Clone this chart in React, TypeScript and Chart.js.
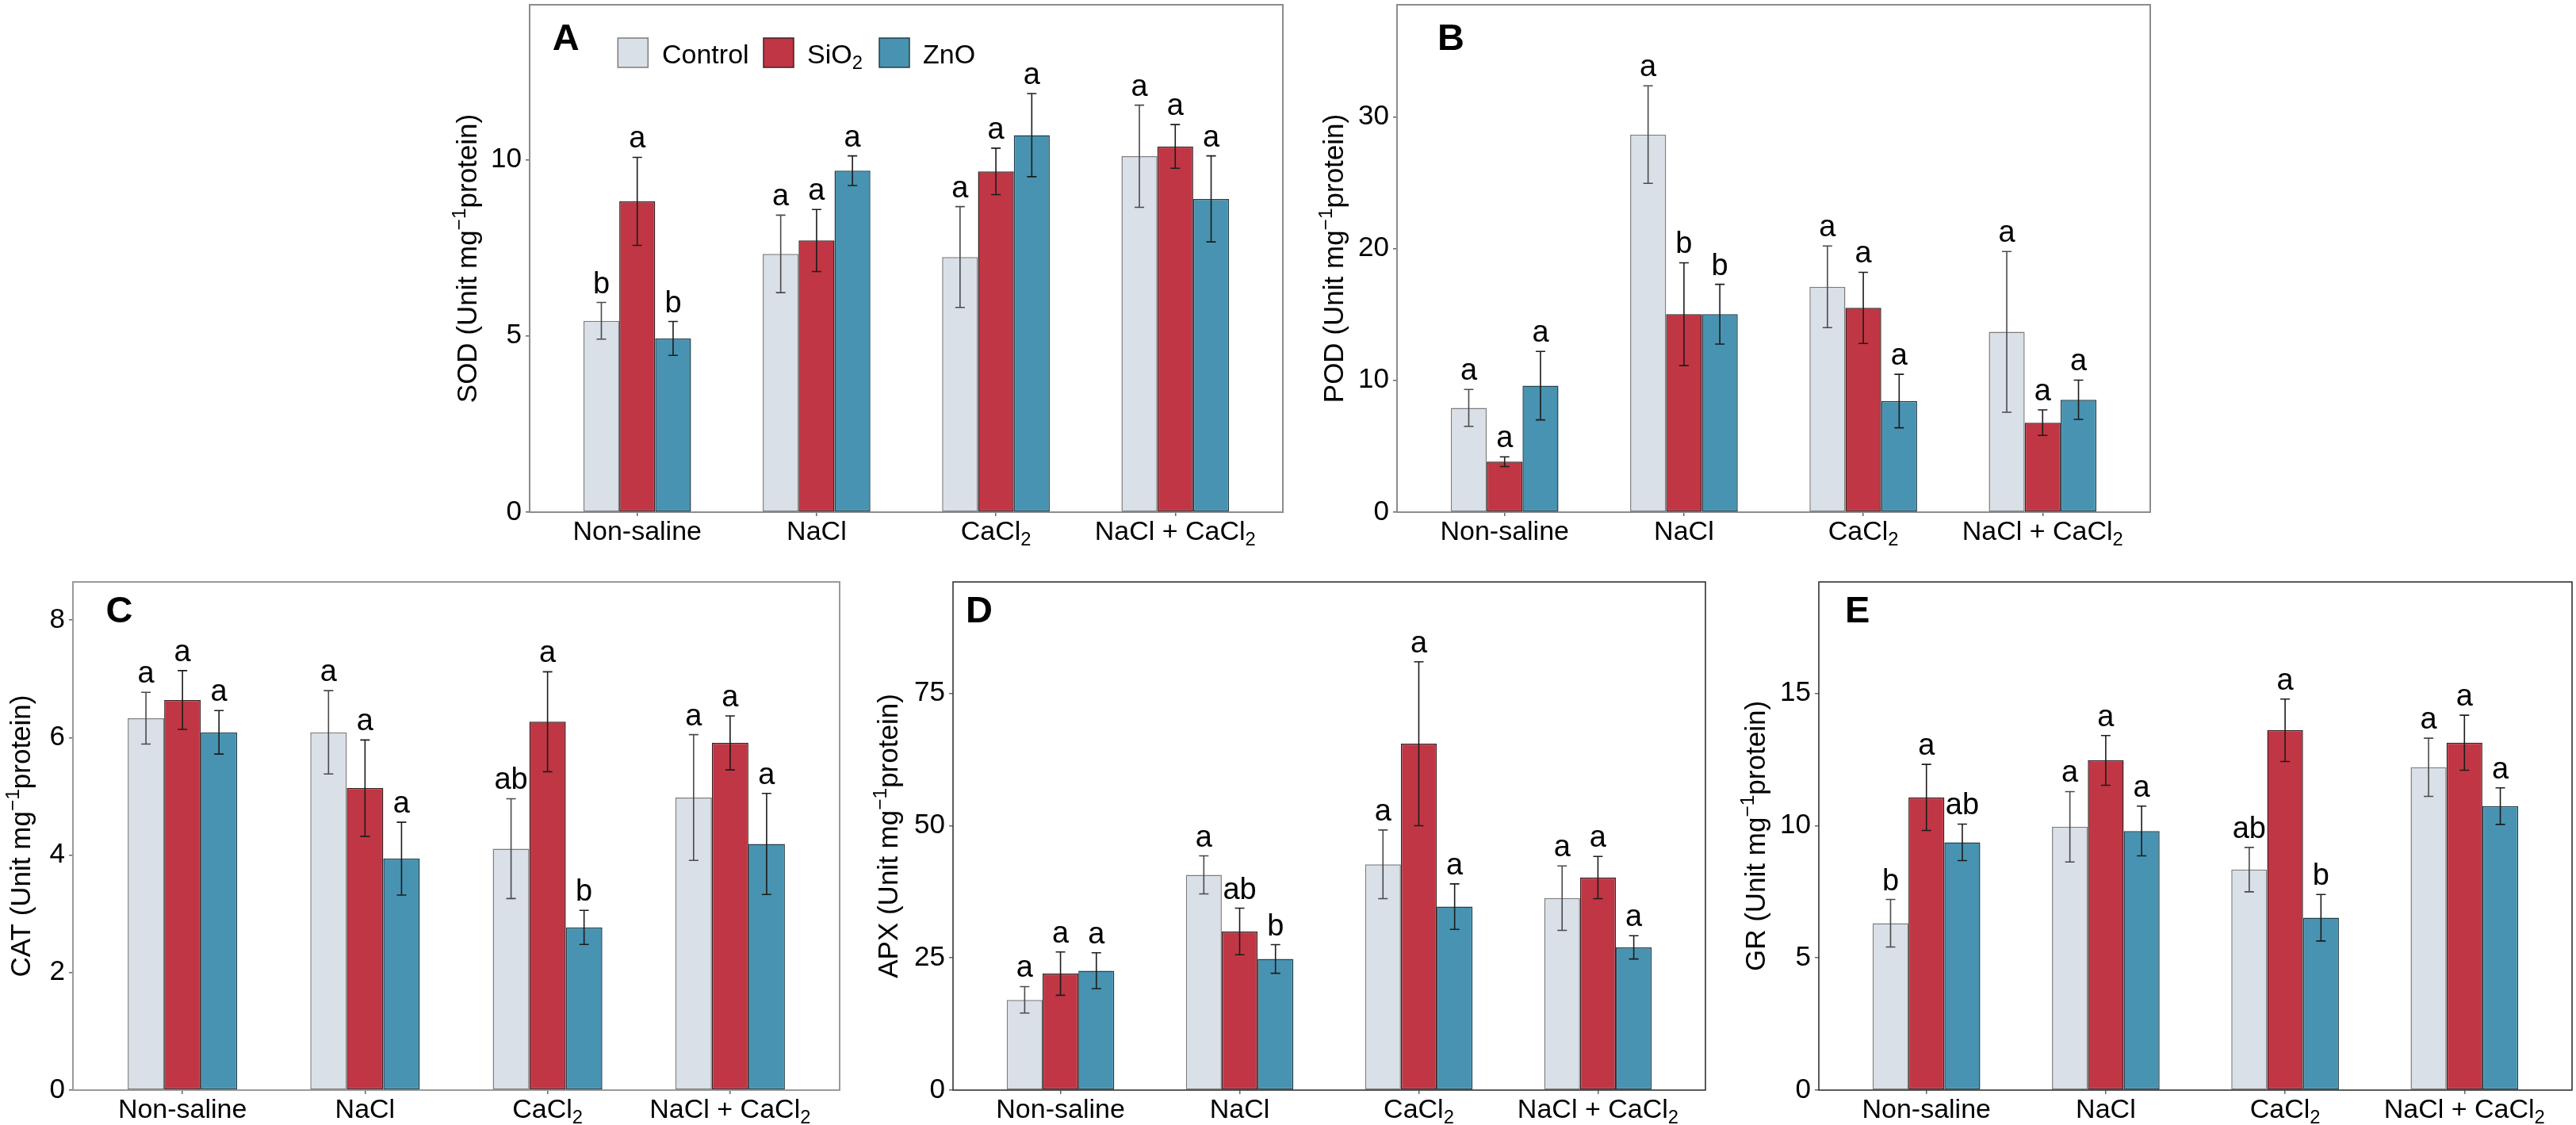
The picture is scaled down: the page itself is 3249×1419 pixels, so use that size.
import { useEffect, useRef } from 'react';
import { Chart, registerables } from 'chart.js';

Chart.register(...registerables);

const FONT = '"Liberation Sans", Arial, Helvetica, sans-serif';

// ---------------- data ----------------
const categories = ['Non-saline', 'NaCl', 'CaCl₂', 'NaCl + CaCl₂'];
const seriesNames = ['Control', 'SiO₂', 'ZnO'];

// A: SOD
const sodControl = [5.43, 7.33, 7.24, 10.1];
const sodControlErr = [0.52, 1.1, 1.43, 1.45];
const sodSiO2 = [8.82, 7.71, 9.67, 10.38];
const sodSiO2Err = [1.25, 0.88, 0.66, 0.62];
const sodZnO = [4.93, 9.69, 10.7, 8.89];
const sodZnOErr = [0.48, 0.42, 1.18, 1.22];
const sodLetters = [['b', 'a', 'a', 'a'], ['a', 'a', 'a', 'a'], ['b', 'a', 'a', 'a']];
const sodTicks = [0, 5, 10];

// B: POD
const podControl = [7.91, 28.65, 17.1, 13.68];
const podControlErr = [1.4, 3.7, 3.1, 6.1];
const podSiO2 = [3.83, 15.02, 15.5, 6.79];
const podSiO2Err = [0.37, 3.9, 2.7, 0.97];
const podZnO = [9.6, 15.02, 8.43, 8.53];
const podZnOErr = [2.6, 2.27, 2.03, 1.49];
const podLetters = [['a', 'a', 'a', 'a'], ['a', 'b', 'a', 'a'], ['a', 'b', 'a', 'a']];
const podTicks = [0, 10, 20, 30];

// C: CAT
const catControl = [6.33, 6.09, 4.11, 4.98];
const catControlErr = [0.44, 0.71, 0.85, 1.07];
const catSiO2 = [6.64, 5.14, 6.27, 5.91];
const catSiO2Err = [0.5, 0.82, 0.85, 0.46];
const catZnO = [6.09, 3.94, 2.77, 4.19];
const catZnOErr = [0.37, 0.62, 0.29, 0.86];
const catLetters = [['a', 'a', 'ab', 'a'], ['a', 'a', 'a', 'a'], ['a', 'a', 'b', 'a']];
const catTicks = [0, 2, 4, 6, 8];

// D: APX
const apxControl = [17.07, 40.7, 42.7, 36.3];
const apxControlErr = [2.5, 3.6, 6.5, 6.1];
const apxSiO2 = [22.03, 30.0, 65.5, 40.2];
const apxSiO2Err = [4.1, 4.4, 15.5, 4.0];
const apxZnO = [22.58, 24.8, 34.7, 27.0];
const apxZnOErr = [3.4, 2.7, 4.3, 2.2];
const apxLetters = [['a', 'a', 'a', 'a'], ['a', 'ab', 'a', 'a'], ['a', 'b', 'a', 'a']];
const apxTicks = [0, 25, 50, 75];

// E: GR
const grControl = [6.31, 9.96, 8.34, 12.21];
const grControlErr = [0.9, 1.33, 0.84, 1.1];
const grSiO2 = [11.07, 12.47, 13.61, 13.14];
const grSiO2Err = [1.25, 0.94, 1.18, 1.04];
const grZnO = [9.37, 9.8, 6.52, 10.74];
const grZnOErr = [0.69, 0.94, 0.88, 0.69];
const grLetters = [['b', 'a', 'ab', 'a'], ['a', 'a', 'a', 'a'], ['ab', 'a', 'b', 'a']];
const grTicks = [0, 5, 10, 15];

// ---------------- styles ----------------
const seriesFill = ['#dae0e7', '#c13644', '#4893b1'];
const seriesBorder = ['#7c7c7c', '#3a2226', '#23404b'];
const errColor = ['#4a4a4a', '#1c1c1c', '#1c1c1c'];

type Panel = {
  id: string;
  title: string;
  values: number[][];
  errors: number[][];
  letters: string[][];
  ticks: number[];
  yMax: number;
  // layout
  l: number; t: number; w: number; h: number;
  lw: number; tp: number; bh: number;
  letterDx: number; letterDy: number; titleOff: number;
  boxColor: string; boxWidth: number;
  legend: boolean;
};

const panels: Panel[] = [
  {
    id: 'A', title: 'SOD (Unit mg⁻¹protein)',
    values: [sodControl, sodSiO2, sodZnO], errors: [sodControlErr, sodSiO2Err, sodZnOErr],
    letters: sodLetters, ticks: sodTicks, yMax: 14.4,
    l: 668, t: 6, w: 950, h: 640, lw: 150, tp: 6, bh: 54,
    letterDx: 28.7, letterDy: 23.3, titleOff: 76, boxColor: '#8c8c8c', boxWidth: 2, legend: true,
  },
  {
    id: 'B', title: 'POD (Unit mg⁻¹protein)',
    values: [podControl, podSiO2, podZnO], errors: [podControlErr, podSiO2Err, podZnOErr],
    letters: podLetters, ticks: podTicks, yMax: 38.5,
    l: 1762, t: 6, w: 950, h: 640, lw: 140, tp: 6, bh: 54,
    letterDx: 51, letterDy: 23.3, titleOff: 77, boxColor: '#8c8c8c', boxWidth: 2, legend: false,
  },
  {
    id: 'C', title: 'CAT (Unit mg⁻¹protein)',
    values: [catControl, catSiO2, catZnO], errors: [catControlErr, catSiO2Err, catZnOErr],
    letters: catLetters, ticks: catTicks, yMax: 8.65,
    l: 92, t: 734, w: 967, h: 641, lw: 91, tp: 34, bh: 44,
    letterDx: 41.4, letterDy: 17.5, titleOff: 63, boxColor: '#9a9a9a', boxWidth: 2, legend: false,
  },
  {
    id: 'D', title: 'APX (Unit mg⁻¹protein)',
    values: [apxControl, apxSiO2, apxZnO], errors: [apxControlErr, apxSiO2Err, apxZnOErr],
    letters: apxLetters, ticks: apxTicks, yMax: 96.1,
    l: 1202, t: 734, w: 949, h: 641, lw: 140, tp: 34, bh: 44,
    letterDx: 16, letterDy: 17.5, titleOff: 79, boxColor: '#333333', boxWidth: 1.6, legend: false,
  },
  {
    id: 'E', title: 'GR (Unit mg⁻¹protein)',
    values: [grControl, grSiO2, grZnO], errors: [grControlErr, grSiO2Err, grZnOErr],
    letters: grLetters, ticks: grTicks, yMax: 19.22,
    l: 2294, t: 734, w: 950, h: 641, lw: 140, tp: 34, bh: 44,
    letterDx: 33, letterDy: 17.8, titleOff: 77, boxColor: '#333333', boxWidth: 1.6, legend: false,
  },
];

const RP = 4;

// ---------------- rich text ----------------
type Seg = { t: string; k: 'n' | 'sub' | 'sup' };
const subMap: Record<string, string> = { '₂': '2' };
const supMap: Record<string, string> = { '⁻': '−', '¹': '1' };

function parseRich(s: string): Seg[] {
  const segs: Seg[] = [];
  for (const ch of s) {
    let k: Seg['k'] = 'n';
    let c = ch;
    if (subMap[ch]) { k = 'sub'; c = subMap[ch]; } else if (supMap[ch]) { k = 'sup'; c = supMap[ch]; }
    const last = segs[segs.length - 1];
    if (last && last.k === k) last.t += c; else segs.push({ t: c, k });
  }
  return segs;
}

function drawRich(ctx: CanvasRenderingContext2D, s: string, x: number, y: number, size: number, align: 'center' | 'left') {
  const segs = parseRich(s);
  const small = size * 0.7;
  const fontFor = (k: Seg['k']) => `${k === 'n' ? size : small}px ${FONT}`;
  let total = 0;
  const widths = segs.map((sg) => {
    ctx.font = fontFor(sg.k);
    const w = ctx.measureText(sg.t).width;
    total += w;
    return w;
  });
  let cx = align === 'center' ? x - total / 2 : x;
  ctx.textAlign = 'left';
  ctx.textBaseline = 'alphabetic';
  segs.forEach((sg, i) => {
    ctx.font = fontFor(sg.k);
    const dy = sg.k === 'sub' ? size * 0.22 : sg.k === 'sup' ? -size * 0.4 : 0;
    ctx.fillText(sg.t, cx, y + dy);
    cx += widths[i];
  });
}

// ---------------- plugin ----------------
function makePlugin(p: Panel) {
  return {
    id: 'panelDeco' + p.id,
    afterDatasetsDraw(chart: any) {
      const ctx: CanvasRenderingContext2D = chart.ctx;
      const ys = chart.scales.y;
      ctx.save();
      chart.data.datasets.forEach((_ds: any, di: number) => {
        const meta = chart.getDatasetMeta(di);
        meta.data.forEach((bar: any, i: number) => {
          const v = p.values[di][i];
          const e = p.errors[di][i];
          const x = bar.x;
          const yt = ys.getPixelForValue(v + e);
          const yb = ys.getPixelForValue(v - e);
          ctx.strokeStyle = errColor[di];
          ctx.lineWidth = 1.6;
          ctx.beginPath();
          ctx.moveTo(x, yt); ctx.lineTo(x, yb);
          ctx.moveTo(x - 6, yt); ctx.lineTo(x + 6, yt);
          ctx.moveTo(x - 6, yb); ctx.lineTo(x + 6, yb);
          ctx.stroke();
          ctx.fillStyle = '#000';
          ctx.font = `38px ${FONT}`;
          ctx.textAlign = 'center';
          ctx.textBaseline = 'alphabetic';
          ctx.fillText(p.letters[di][i], x, yt - 12);
        });
      });
      ctx.restore();
    },
    afterDraw(chart: any) {
      const ctx: CanvasRenderingContext2D = chart.ctx;
      const ca = chart.chartArea;
      const xs = chart.scales.x;
      ctx.save();
      // box
      ctx.strokeStyle = p.boxColor;
      ctx.lineWidth = p.boxWidth;
      ctx.strokeRect(ca.left, ca.top, ca.right - ca.left, ca.bottom - ca.top);
      // x labels
      ctx.fillStyle = '#000';
      categories.forEach((c, i) => {
        drawRich(ctx, c, xs.getPixelForValue(i + 1), ca.bottom + 35, 34, 'center');
      });
      // y title
      const cy = (ca.top + ca.bottom) / 2;
      ctx.save();
      ctx.translate(ca.left - p.titleOff, cy);
      ctx.rotate(-Math.PI / 2);
      drawRich(ctx, p.title, 0, 9, 35, 'center');
      ctx.restore();
      // panel letter
      ctx.fillStyle = '#000';
      ctx.font = `bold 47px ${FONT}`;
      ctx.textAlign = 'left';
      ctx.textBaseline = 'alphabetic';
      ctx.fillText(p.id, ca.left + p.letterDx, ca.top + p.letterDy + 47 * 0.716);
      // legend
      if (p.legend) {
        const sqX = [111.3, 295, 441];
        const txX = [167, 350, 496];
        seriesNames.forEach((n, k) => {
          ctx.fillStyle = seriesFill[k];
          ctx.fillRect(ca.left + sqX[k], ca.top + 42, 38, 37);
          ctx.strokeStyle = seriesBorder[k];
          ctx.lineWidth = 1.5;
          ctx.strokeRect(ca.left + sqX[k], ca.top + 42, 38, 37);
          ctx.fillStyle = '#000';
          drawRich(ctx, n, ca.left + txX[k], ca.top + 73.5, 34, 'left');
        });
      }
      ctx.restore();
    },
  };
}

function zeroPad(s: any) {
  s.paddingLeft = 0; s.paddingRight = 0; s.paddingTop = 0; s.paddingBottom = 0;
}

function PanelChart({ p }: { p: Panel }) {
  const ref = useRef<HTMLCanvasElement>(null);
  const W = p.lw + p.w + RP;
  const H = p.tp + p.h + p.bh;
  useEffect(() => {
    if (!ref.current) return;
    const chart = new Chart(ref.current, {
      type: 'bar',
      data: {
        datasets: seriesNames.map((n, di) => ({
          label: n,
          data: p.values[di].map((v, i) => ({ x: i + 1, y: v })),
          backgroundColor: seriesFill[di],
          borderColor: seriesBorder[di],
          borderWidth: 1.5,
          borderSkipped: false,
          categoryPercentage: 0.6,
          barPercentage: 1.0,
        })),
      },
      options: {
        responsive: false,
        animation: false,
        events: [],
        layout: { padding: { left: 0, top: p.tp, right: RP, bottom: 0 } },
        plugins: { legend: { display: false }, tooltip: { enabled: false }, title: { display: false } },
        scales: {
          x: {
            type: 'linear',
            min: 0.4,
            max: 4.6,
            offset: false,
            grid: { display: true, offset: false, drawOnChartArea: false, drawTicks: true, tickLength: 5, color: '#666', lineWidth: 1.5 },
            border: { display: false },
            ticks: { display: false },
            afterBuildTicks: (s: any) => { s.ticks = [1, 2, 3, 4].map((v) => ({ value: v })); },
            afterFit: (s: any) => { s.height = p.bh; zeroPad(s); },
          },
          y: {
            type: 'linear',
            min: 0,
            max: p.yMax,
            grid: { display: true, drawOnChartArea: false, drawTicks: true, tickLength: 5, color: '#666', lineWidth: 1.5 },
            border: { display: false },
            ticks: { color: '#000', padding: 5, font: { family: FONT, size: 35 } },
            afterBuildTicks: (s: any) => { s.ticks = p.ticks.map((v) => ({ value: v })); },
            afterFit: (s: any) => { s.width = p.lw; zeroPad(s); },
          },
        },
      } as any,
      plugins: [makePlugin(p)],
    });
    return () => chart.destroy();
  }, [p]);
  return (
    <canvas
      ref={ref}
      width={W}
      height={H}
      style={{ position: 'absolute', left: p.l - p.lw, top: p.t - p.tp, width: W, height: H }}
    />
  );
}

export default function App() {
  return (
    <div style={{ position: 'absolute', left: 0, top: 0, width: 3249, height: 1419, background: '#fff', overflow: 'hidden' }}>
      {panels.map((p) => (
        <PanelChart key={p.id} p={p} />
      ))}
    </div>
  );
}
